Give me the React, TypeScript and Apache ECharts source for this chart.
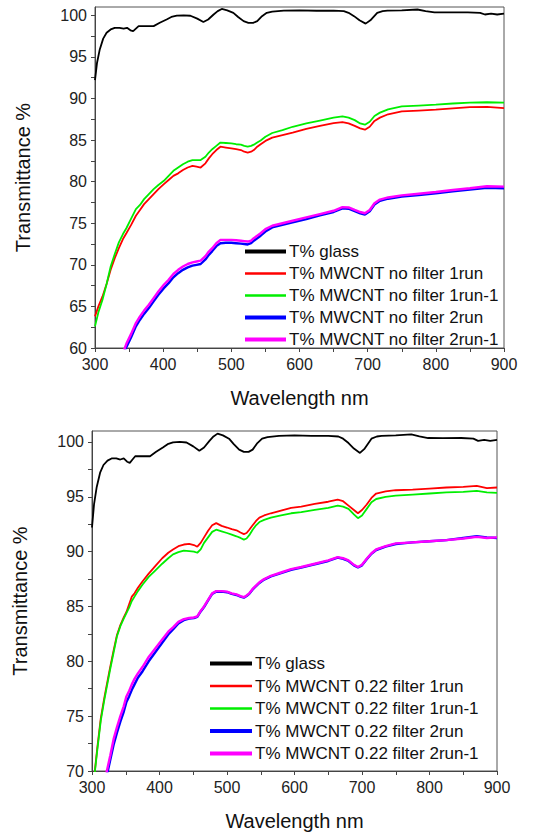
import React, { useEffect, useRef } from "react";
import * as echarts from "echarts";

// ---------- data ----------
const glassWl = [300, 303, 307, 312, 317, 323, 329, 336, 342, 347, 352, 356, 360, 364, 372, 380, 386, 395, 405, 412, 420, 430, 440, 450, 459, 466, 474, 480, 486, 494, 503, 510, 518, 525, 532, 538, 545, 552, 560, 577, 600, 625, 650, 665, 672, 680, 688, 697, 704, 714, 722, 729, 750, 773, 785, 798, 820, 847, 865, 872, 881, 890, 900];
const glassT = [92.2, 94.3, 95.9, 97.2, 97.9, 98.3, 98.5, 98.5, 98.4, 98.5, 98.2, 98.1, 98.4, 98.7, 98.7, 98.7, 98.7, 99.1, 99.5, 99.8, 99.96, 100.0, 99.95, 99.6, 99.2, 99.5, 100.1, 100.5, 100.76, 100.6, 100.3, 99.8, 99.3, 99.1, 99.1, 99.3, 99.9, 100.3, 100.45, 100.56, 100.6, 100.55, 100.56, 100.5, 100.3, 99.9, 99.4, 99.0, 99.4, 100.3, 100.5, 100.56, 100.6, 100.7, 100.5, 100.36, 100.35, 100.36, 100.3, 100.1, 100.2, 100.1, 100.2];

const wlTop = [300, 305, 311, 317, 323, 329, 335, 341, 346, 353, 360, 366, 372, 379, 386, 393, 401, 408, 415, 422, 429, 436, 443, 449, 455, 462, 467, 472, 478, 484, 492, 500, 507, 514, 519, 524, 529, 533, 538, 543, 550, 560, 575, 590, 610, 630, 650, 663, 672, 681, 689, 696, 703, 710, 718, 730, 750, 775, 800, 825, 850, 875, 900];
const redTop = [63.8, 65.0, 66.2, 67.7, 69.4, 70.8, 72.0, 73.1, 73.8, 74.8, 75.9, 76.6, 77.3, 77.9, 78.5, 79.1, 79.7, 80.2, 80.7, 81.0, 81.4, 81.7, 81.9, 81.8, 81.7, 82.2, 82.8, 83.3, 83.8, 84.2, 84.1, 84.0, 83.9, 83.8, 83.6, 83.5, 83.6, 83.8, 84.2, 84.5, 84.9, 85.3, 85.6, 85.9, 86.35, 86.7, 87.05, 87.17, 87.0, 86.7, 86.4, 86.25, 86.6, 87.3, 87.7, 88.1, 88.45, 88.55, 88.65, 88.8, 88.95, 89.0, 88.85];
const greenTop = [62.6, 64.3, 65.8, 67.7, 69.8, 71.3, 72.7, 73.7, 74.4, 75.55, 76.7, 77.2, 77.9, 78.5, 79.1, 79.6, 80.1, 80.7, 81.3, 81.7, 82.1, 82.4, 82.6, 82.6, 82.6, 83.0, 83.5, 83.9, 84.3, 84.7, 84.65, 84.6, 84.5, 84.45, 84.3, 84.2, 84.3, 84.45, 84.7, 84.95, 85.4, 85.85, 86.2, 86.6, 87.0, 87.35, 87.7, 87.85, 87.7, 87.4, 87.0, 86.85, 87.2, 87.9, 88.3, 88.7, 89.05, 89.15, 89.25, 89.4, 89.5, 89.55, 89.5];
const blueTop = [null, null, null, null, null, null, null, 59.1, 60.1, 61.3, 62.6, 63.4, 64.1, 64.8, 65.6, 66.4, 67.2, 67.8, 68.5, 69.0, 69.4, 69.7, 69.9, 70.0, 70.1, 70.65, 71.2, 71.65, 72.25, 72.6, 72.65, 72.65, 72.6, 72.55, 72.5, 72.45, 72.6, 72.9, 73.2, 73.5, 74.0, 74.5, 74.8, 75.1, 75.5, 75.95, 76.35, 76.8, 76.75, 76.45, 76.2, 76.05, 76.45, 77.25, 77.7, 77.95, 78.2, 78.4, 78.6, 78.85, 79.05, 79.25, 79.2];
const magentaTop = [null, null, null, null, null, null, null, 59.4, 60.5, 61.7, 63.0, 63.8, 64.5, 65.2, 66.0, 66.8, 67.6, 68.2, 68.9, 69.4, 69.8, 70.1, 70.3, 70.4, 70.5, 71.05, 71.6, 72.0, 72.6, 73.0, 73.0, 73.0, 72.95, 72.9, 72.85, 72.8, 72.9, 73.2, 73.5, 73.8, 74.3, 74.7, 75.0, 75.3, 75.7, 76.1, 76.5, 76.94, 76.9, 76.6, 76.35, 76.2, 76.6, 77.4, 77.85, 78.1, 78.35, 78.55, 78.75, 79.0, 79.2, 79.45, 79.4];

const wlBot = [300, 304, 308, 313, 318, 322, 327, 332, 337, 342, 347, 351, 355, 359, 363, 368, 375, 384, 394, 404, 413, 420, 428, 436, 444, 451, 456, 461, 466, 472, 478, 484, 492, 500, 507, 514, 520, 525, 529, 533, 538, 543, 548, 555, 565, 580, 595, 610, 630, 650, 664, 672, 680, 688, 694, 700, 707, 714, 721, 735, 750, 775, 800, 825, 850, 870, 885, 900];
const redBot = [68.6, 69.9, 72.2, 74.8, 76.6, 77.9, 79.5, 81.0, 82.4, 83.3, 84.0, 84.5, 85.2, 85.9, 86.2, 86.7, 87.3, 88.0, 88.7, 89.4, 89.9, 90.2, 90.5, 90.65, 90.7, 90.6, 90.45, 90.8, 91.3, 91.9, 92.4, 92.6, 92.35, 92.2, 92.05, 91.95, 91.75, 91.6, 91.7, 92.0, 92.4, 92.8, 93.1, 93.3, 93.5, 93.75, 94.0, 94.1, 94.35, 94.55, 94.75, 94.6, 94.2, 93.8, 93.5, 93.8, 94.3, 94.9, 95.3, 95.5, 95.6, 95.65, 95.75, 95.85, 95.9, 96.0, 95.8, 95.85];
const greenBot = [68.5, 69.8, 72.0, 74.6, 76.4, 77.7, 79.3, 80.8, 82.3, 83.2, 83.9, 84.4, 84.9, 85.5, 85.9, 86.4, 87.0, 87.7, 88.3, 88.9, 89.4, 89.75, 89.95, 90.1, 90.05, 90.0, 89.9, 90.2, 90.8, 91.3, 91.8, 92.0, 91.85, 91.7, 91.55, 91.4, 91.25, 91.1, 91.2, 91.5, 92.0, 92.4, 92.7, 92.9, 93.1, 93.3, 93.5, 93.6, 93.8, 94.0, 94.2, 94.1, 93.9, 93.4, 93.05, 93.3, 93.9, 94.5, 94.8, 95.0, 95.1, 95.2, 95.3, 95.4, 95.45, 95.55, 95.4, 95.36];
const blueBot = [null, null, null, null, 68.4, 69.6, 71.0, 72.4, 73.5, 74.5, 75.4, 76.3, 76.8, 77.4, 77.9, 78.5, 79.1, 80.0, 80.85, 81.7, 82.45, 82.9, 83.45, 83.75, 83.9, 83.95, 84.05, 84.55, 84.95, 85.55, 86.15, 86.35, 86.35, 86.3, 86.15, 86.05, 85.9, 85.8, 85.95, 86.15, 86.55, 86.85, 87.15, 87.45, 87.75, 88.05, 88.35, 88.55, 88.85, 89.15, 89.45, 89.35, 89.15, 88.75, 88.55, 88.75, 89.3, 89.8, 90.15, 90.45, 90.7, 90.85, 90.95, 91.05, 91.25, 91.4, 91.3, 91.25];
const magentaBot = [null, null, null, null, 68.8, 70.0, 71.4, 72.9, 74.0, 75.0, 75.9, 76.8, 77.3, 77.9, 78.4, 78.9, 79.5, 80.4, 81.2, 82.0, 82.7, 83.1, 83.6, 83.85, 83.95, 84.0, 84.1, 84.6, 85.0, 85.6, 86.2, 86.4, 86.4, 86.35, 86.2, 86.1, 85.95, 85.85, 86.0, 86.2, 86.6, 86.9, 87.2, 87.5, 87.8, 88.1, 88.4, 88.6, 88.9, 89.2, 89.5, 89.4, 89.2, 88.8, 88.6, 88.8, 89.35, 89.85, 90.2, 90.5, 90.75, 90.85, 90.95, 91.05, 91.2, 91.35, 91.25, 91.3];

const namesTop = ["T% glass", "T% MWCNT no filter 1run", "T% MWCNT no filter 1run-1", "T% MWCNT no filter 2run", "T% MWCNT no filter 2run-1"];
const namesBot = ["T% glass", "T% MWCNT 0.22 filter 1run", "T% MWCNT 0.22 filter 1run-1", "T% MWCNT 0.22 filter 2run", "T% MWCNT 0.22 filter 2run-1"];
const colors = ["#000000", "#ff0000", "#00ee00", "#0000ff", "#ff00ff"];

const xTicks = [300, 350, 400, 450, 500, 550, 600, 650, 700, 750, 800, 850, 900];
const xLabels = [300, 400, 500, 600, 700, 800, 900];
const yTicksTop = [60, 62.5, 65, 67.5, 70, 72.5, 75, 77.5, 80, 82.5, 85, 87.5, 90, 92.5, 95, 97.5, 100];
const yLabelsTop = [60, 65, 70, 75, 80, 85, 90, 95, 100];
const yTicksBot = [70, 72.5, 75, 77.5, 80, 82.5, 85, 87.5, 90, 92.5, 95, 97.5, 100];
const yLabelsBot = [70, 75, 80, 85, 90, 95, 100];

const FONT = "Liberation Sans, Arial, sans-serif";

function pairs(wl: number[], v: (number | null)[]) {
  return wl.map((w, i) => [w, v[i]]);
}

function xAxis(gridIndex: number) {
  return {
    type: "value",
    gridIndex,
    min: 300,
    max: 900,
    interval: 100,
    name: "Wavelength nm",
    nameLocation: "middle",
    nameGap: 40,
    nameTextStyle: { fontSize: 20, color: "#111", fontFamily: FONT },
    axisLine: { show: true, onZero: false, lineStyle: { color: "#444", width: 1 } },
    axisTick: { show: true, inside: false, length: 4, customValues: xTicks, lineStyle: { color: "#444" } },
    axisLabel: { fontSize: 16, color: "#222", margin: 8, fontFamily: FONT, customValues: xLabels },
    splitLine: { show: false },
  };
}

function yAxis(gridIndex: number, min: number, ticks: number[], labels: number[]) {
  return {
    type: "value",
    gridIndex,
    min,
    max: 101,
    interval: 5,
    name: "Transmittance %",
    nameLocation: "middle",
    nameGap: 62,
    nameTextStyle: { fontSize: 20, color: "#111", fontFamily: FONT },
    axisLine: { show: true, onZero: false, lineStyle: { color: "#444", width: 1 } },
    axisTick: { show: true, inside: false, length: 4, customValues: ticks, lineStyle: { color: "#444" } },
    axisLabel: { fontSize: 16, color: "#222", margin: 8, fontFamily: FONT, customValues: labels },
    splitLine: { show: false },
  };
}

function legend(names: string[], left: number, top: number, iw: number, gap: number) {
  const widths = [4, 2.5, 2.5, 4, 4];
  return {
    orient: "vertical",
    left,
    top,
    padding: 0,
    itemWidth: iw,
    itemHeight: 2,
    itemGap: gap,
    selectedMode: false,
    textStyle: { fontSize: 17, color: "#111", fontFamily: FONT, padding: [0, 0, 0, -2] },
    data: names.map((n, i) => ({
      name: n,
      lineStyle: { width: widths[i], color: colors[i] },
      itemStyle: { opacity: 0, color: "transparent", borderWidth: 0 },
    })),
  };
}

function lineSeries(name: string, xi: number, data: any[], color: string, width: number) {
  return {
    type: "line",
    name,
    xAxisIndex: xi,
    yAxisIndex: xi,
    data,
    symbol: "none",
    showSymbol: false,
    clip: true,
    lineStyle: { color, width },
    itemStyle: { color },
    emphasis: { disabled: true },
  };
}

export default function App() {
  const ref = useRef<HTMLDivElement>(null);
  useEffect(() => {
    if (!ref.current) return;
    const chart = echarts.init(ref.current, null, { renderer: "svg" });
    const topVals = [glassT, redTop, greenTop, blueTop, magentaTop];
    const botVals = [glassT, redBot, greenBot, blueBot, magentaBot];
    const lw = [1.8, 1.8, 1.8, 2.4, 2.4];
    const series: any[] = [];
    namesTop.forEach((n, i) => {
      series.push(lineSeries(n, 0, pairs(i === 0 ? glassWl : wlTop, topVals[i]), colors[i], lw[i]));
    });
    namesBot.forEach((n, i) => {
      series.push(lineSeries(n, 1, pairs(i === 0 ? glassWl : wlBot, botVals[i]), colors[i], lw[i]));
    });
    chart.setOption({
      animation: false,
      backgroundColor: "#ffffff",
      grid: [
        { left: 95, top: 7, width: 409, height: 341, show: true, borderColor: "#555", borderWidth: 1, containLabel: false },
        { left: 92, top: 431, width: 405, height: 340, show: true, borderColor: "#555", borderWidth: 1, containLabel: false },
      ],
      xAxis: [xAxis(0), xAxis(1)],
      yAxis: [yAxis(0, 60, yTicksTop, yLabelsTop), yAxis(1, 70, yTicksBot, yLabelsBot)],
      legend: [legend(namesTop, 243, 243, 41, 5), legend(namesBot, 208, 655, 42, 5.5)],
      series,
    });
    return () => chart.dispose();
  }, []);
  return (
    <div
      ref={ref}
      style={{ position: "fixed", left: 0, top: 0, width: 542, height: 833, background: "#fff" }}
    />
  );
}
